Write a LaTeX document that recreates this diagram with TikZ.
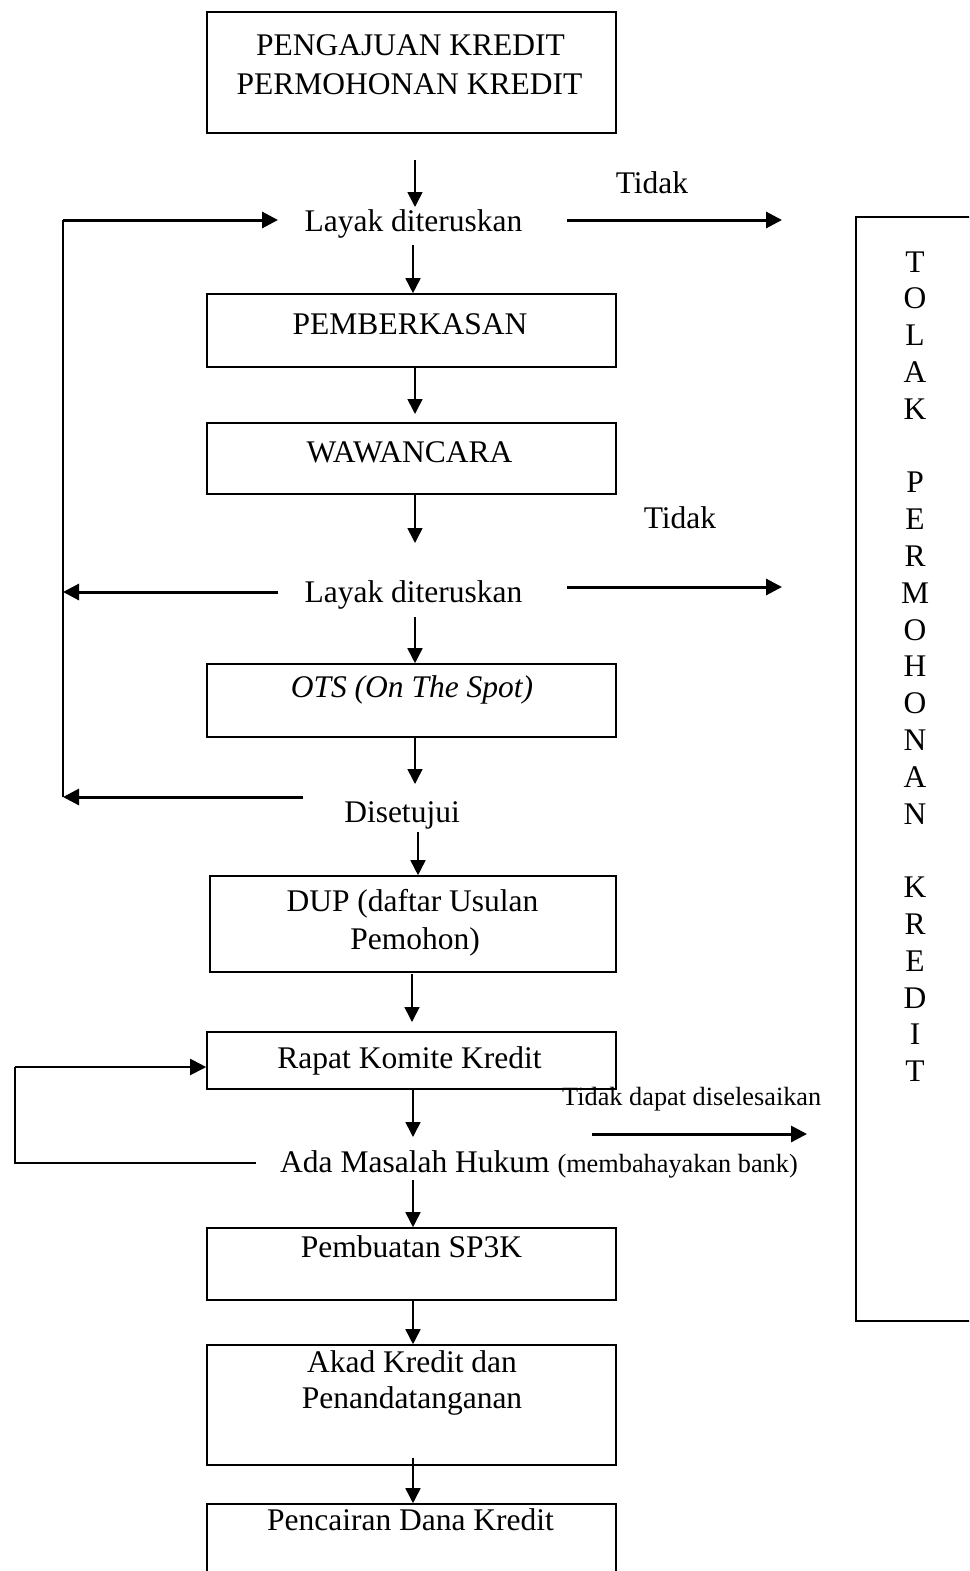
\documentclass[tikz,border=0pt]{standalone}
\usepackage{fontspec}
\setmainfont{Liberation Serif}
\usetikzlibrary{arrows.meta}
\begin{document}
\begin{tikzpicture}[x=1pt,y=-1pt,
  box/.style={draw, line width=1.6pt, inner sep=0pt, minimum width=409pt},
  txt/.style={inner sep=0pt, anchor=base, font=\fontsize{31.5}{38}\selectfont},
  smalltxt/.style={inner sep=0pt, anchor=base west, font=\fontsize{26.3}{30}\selectfont},
  varrow/.style={line width=1.6pt, -{Triangle[length=15pt,width=15pt]}},
  harrow/.style={line width=3pt, -{Triangle[length=16pt,width=16pt]}},
  plainline/.style={line width=1.6pt},
  loopline/.style={line width=2pt}]
\useasboundingbox (0,0) rectangle (969,1571);
\clip (0,0) rectangle (969,1571);

% boxes
\node[box, minimum height=121pt] (b1) at (411.5,72.5) {};
\node[box, minimum height=73pt] (b2) at (411.5,330.5) {};
\node[box, minimum height=71pt] (b3) at (411.5,458.5) {};
\node[box, minimum height=73pt] (b4) at (411.5,700.5) {};
\node[box, minimum height=96pt, minimum width=406pt] (b5) at (413,924) {};
\node[box, minimum height=57pt] (b6) at (411.5,1060.5) {};
\node[box, minimum height=72pt] (b7) at (411.5,1264) {};
\node[box, minimum height=120pt] (b8) at (411.5,1405) {};
\node[box, minimum height=96pt] (b9) at (411.5,1552) {};
\node[box, minimum height=1104pt, minimum width=200pt] (tolak) at (956,769) {};

% texts
\node[txt] (t1a) at (410.5,56) {PENGAJUAN KREDIT};
\node[txt] (t1b) at (409.5,94) {PERMOHONAN KREDIT};
\node[txt] (lay1) at (413.5,231) {Layak diteruskan};
\node[txt] (tid1) at (652,193) {Tidak};
\node[txt] (t2) at (410,334) {PEMBERKASAN};
\node[txt] (t3) at (409.5,462) {WAWANCARA};
\node[txt] (tid2) at (680,528) {Tidak};
\node[txt] (lay2) at (413.5,602) {Layak diteruskan};
\node[txt] (t4) at (412,697) {\itshape OTS (On The Spot)};
\node[txt] (dis) at (402,822) {Disetujui};
\node[txt] (t5a) at (412.5,911) {DUP (daftar Usulan};
\node[txt] (t5b) at (415,949) {Pemohon)};
\node[txt] (t6) at (409.5,1068) {Rapat Komite Kredit};
\node[smalltxt] (tdd) at (562,1105) {Tidak dapat diselesaikan};
\node[txt, anchor=base west] (ada) at (280,1172) {Ada Masalah Hukum {\fontsize{26.3}{30}\selectfont (membahayakan bank)}};
\node[txt] (t7) at (411.5,1257) {Pembuatan SP3K};
\node[txt] (t8a) at (412,1372) {Akad Kredit dan};
\node[txt] (t8b) at (412,1408) {Penandatanganan};
\node[txt] (t9) at (410.5,1530) {Pencairan Dana Kredit};

% vertical letters
\foreach \ch [count=\i from 0] in {T,O,L,A,K,,P,E,R,M,O,H,O,N,A,N,,K,R,E,D,I,T}{
  \node[txt] (v\i) at (915,272+36.8*\i) {\ch};
}

% coordinates
\coordinate (c1s) at (415,160);  \coordinate (c1e) at (415,207);
\coordinate (c2s) at (413,245);
\coordinate (c3s) at (415,367);  \coordinate (c3e) at (415,414);
\coordinate (c4s) at (415,495);  \coordinate (c4e) at (415,543);
\coordinate (c5s) at (415,617);
\coordinate (c6s) at (415,737);  \coordinate (c6e) at (415,784);
\coordinate (c7s) at (418,832);
\coordinate (c8s) at (412,974);  \coordinate (c8e) at (412,1022);
\coordinate (c9s) at (413,1090); \coordinate (c9e) at (413,1137);
\coordinate (c10s) at (413,1180);
\coordinate (c11s) at (413,1300);
\coordinate (c12s) at (413,1458);

\coordinate (fbTop) at (63,220);
\coordinate (fbIn) at (278,220);
\coordinate (fb2s) at (278,592);
\coordinate (fb2e) at (63,592);
\coordinate (fb3s) at (303,797);
\coordinate (fb3e) at (63,797);

\coordinate (r1s) at (567,220); \coordinate (r1e) at (782,220);
\coordinate (r2s) at (567,587); \coordinate (r2e) at (782,587);
\coordinate (r3s) at (592,1134); \coordinate (r3e) at (807,1134);

\coordinate (lp1) at (256,1163);
\coordinate (lp2) at (15,1163);
\coordinate (lp3) at (15,1067);

% main flow arrows
\draw[varrow] (c1s) -- (c1e);
\draw[varrow] (c2s) -- (c2s |- b2.north);
\draw[varrow] (c3s) -- (c3e);
\draw[varrow] (c4s) -- (c4e);
\draw[varrow] (c5s) -- (c5s |- b4.north);
\draw[varrow] (c6s) -- (c6e);
\draw[varrow] (c7s) -- (c7s |- b5.north);
\draw[varrow] (c8s) -- (c8e);
\draw[varrow] (c9s) -- (c9e);
\draw[varrow] (c10s) -- (c10s |- b7.north);
\draw[varrow] (c11s) -- (c11s |- b8.north);
\draw[varrow] (c12s) -- (c12s |- b9.north);

% feedback on the left
\draw[plainline] (fbTop) -- (fb3e);
\draw[harrow] (fbTop) -- (fbIn);
\draw[harrow] (fb2s) -- (fb2e);
\draw[harrow] (fb3s) -- (fb3e);

% rejections to the right
\draw[harrow] (r1s) -- (r1e);
\draw[harrow] (r2s) -- (r2e);
\draw[harrow] (r3s) -- (r3e);

% loop back to Rapat Komite Kredit
\draw[loopline] (lp1) -- (lp2) -- (lp3);
\draw[loopline, -{Triangle[length=16pt,width=16pt]}] (lp3) -- (lp3 -| b6.west);
\end{tikzpicture}
\end{document}
